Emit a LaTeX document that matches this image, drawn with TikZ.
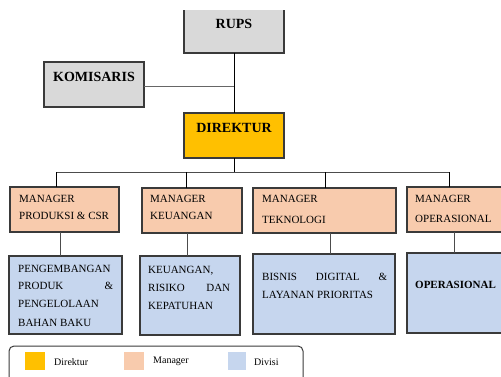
\documentclass[tikz,border=0pt]{standalone}
\usepackage{fontspec}
\setmainfont{Liberation Serif}
\definecolor{grayfill}{HTML}{D9D9D9}
\definecolor{goldfill}{HTML}{FFC000}
\definecolor{peachfill}{HTML}{F8CBAD}
\definecolor{bluefill}{HTML}{C6D6EE}
\definecolor{edgecol}{HTML}{3A3A3A}
\begin{document}
\begin{tikzpicture}[x=1pt,y=-1pt,
  box/.style={draw=edgecol,line width=1.1pt,anchor=north west,inner sep=0pt,outer sep=0pt},
  conn/.style={draw=black,line width=0.9pt},
  txt/.style={anchor=base west,inner sep=0pt,font=\fontsize{11}{13}\selectfont},
  bigtxt/.style={anchor=base,inner sep=0pt,font=\fontsize{14}{16}\selectfont\bfseries},
  legtxt/.style={anchor=base west,inner sep=0pt,font=\fontsize{10}{12}\selectfont},
  swatch/.style={anchor=north west,inner sep=0pt,minimum width=20pt,minimum height=18pt}]
\useasboundingbox (0,0) rectangle (501,376);
\clip (0,10) rectangle (501,376);
% top boxes
\node[box,fill=grayfill,minimum width=100pt,minimum height=58pt] (rups) at (184,-5) {};
\node[box,fill=grayfill,minimum width=100pt,minimum height=45pt] (kom) at (44,62) {};
\node[box,fill=goldfill,minimum width=100pt,minimum height=45pt] (dir) at (184,113) {};
\node[bigtxt] (trups) at (234,28) {RUPS};
\node[bigtxt] (tkom) at (94,81) {KOMISARIS};
\node[bigtxt] (tdir) at (234,132) {DIREKTUR};
% managers
\node[box,fill=peachfill,minimum width=109pt,minimum height=45pt] (m1) at (10,187) {};
\node[box,fill=peachfill,minimum width=100pt,minimum height=45pt] (m2) at (142,188) {};
\node[box,fill=peachfill,minimum width=143pt,minimum height=45pt] (m3) at (253,188) {};
\node[box,fill=peachfill,minimum width=110pt,minimum height=45pt] (m4) at (407,187) {};
% divisions
\node[box,fill=bluefill,minimum width=113pt,minimum height=78pt] (d1) at (9,256) {};
\node[box,fill=bluefill,minimum width=100pt,minimum height=79pt] (d2) at (140,256) {};
\node[box,fill=bluefill,minimum width=142pt,minimum height=80pt] (d3) at (253,254) {};
\node[box,fill=bluefill,minimum width=110pt,minimum height=80pt] (d4) at (407,253) {};
% connectors
\draw[conn] (rups.south) -- (dir.north);
\coordinate (kj) at (234,86);
\draw[conn,draw=black!60] (kom.east |- kj) -- (kj);
\coordinate (bus) at (234,172);
\coordinate (b1) at (56,172);
\coordinate (b2) at (186,172);
\coordinate (b3) at (325,172);
\coordinate (b4) at (449,172);
\draw[conn] (dir.south) -- (bus);
\draw[conn,draw=black!70] (b1) -- (b4);
\draw[conn] (b1) -- (b1 |- m1.north);
\draw[conn] (b2) -- (b2 |- m2.north);
\draw[conn] (b3) -- (b3 |- m3.north);
\draw[conn] (b4) -- (b4 |- m4.north);
\coordinate (c1) at (60,232);
\coordinate (c2) at (187,233);
\coordinate (c3) at (330,233);
\coordinate (c4) at (454,232);
\draw[conn,draw=black!70] (c1) -- (c1 |- d1.north);
\draw[conn,draw=black!70] (c2) -- (c2 |- d2.north);
\draw[conn,draw=black!70] (c3) -- (c3 |- d3.north);
\draw[conn,draw=black!70] (c4) -- (c4 |- d4.north);
% manager texts
\node[txt] (m1a) at (19,202) {MANAGER};
\node[txt] (m1b) at (19,219) {PRODUKSI \& CSR};
\node[txt] (m2a) at (150,202) {MANAGER};
\node[txt] (m2b) at (150,219) {KEUANGAN};
\node[txt] (m3a) at (262,202) {MANAGER};
\node[txt] (m3b) at (262,223) {TEKNOLOGI};
\node[txt] (m4a) at (415,202) {MANAGER};
\node[txt] (m4b) at (415,222) {OPERASIONAL};
% division texts
\node[txt] (d1a) at (18,272) {PENGEMBANGAN};
\node[txt] (d1b) at (18,289) {\hbox to 95pt{PRODUK\hfill\&}};
\node[txt] (d1c) at (18,307) {PENGELOLAAN};
\node[txt] (d1d) at (18,326) {BAHAN BAKU};
\node[txt] (d2a) at (148,273) {KEUANGAN,};
\node[txt] (d2b) at (148,291) {\hbox to 82pt{RISIKO\hfill DAN}};
\node[txt] (d2c) at (148,309) {KEPATUHAN};
\node[txt] (d3a) at (262,280) {\hbox to 125pt{BISNIS\hfill DIGITAL\hfill\&}};
\node[txt] (d3b) at (262,298) {LAYANAN PRIORITAS};
\node[txt,font=\fontsize{11}{13}\selectfont\bfseries] (d4a) at (415,288) {OPERASIONAL};
% legend
\draw[draw=edgecol,line width=1pt,rounded corners=5pt] (9,346) rectangle (303,395);
\node[swatch,fill=goldfill] (s1) at (25,352) {};
\node[swatch,fill=peachfill] (s2) at (124,352) {};
\node[swatch,fill=bluefill,minimum width=18pt] (s3) at (228,352) {};
\node[legtxt] (l1) at (54,365) {Direktur};
\node[legtxt] (l2) at (153,363) {Manager};
\node[legtxt] (l3) at (254,365) {Divisi};
\end{tikzpicture}
\end{document}
